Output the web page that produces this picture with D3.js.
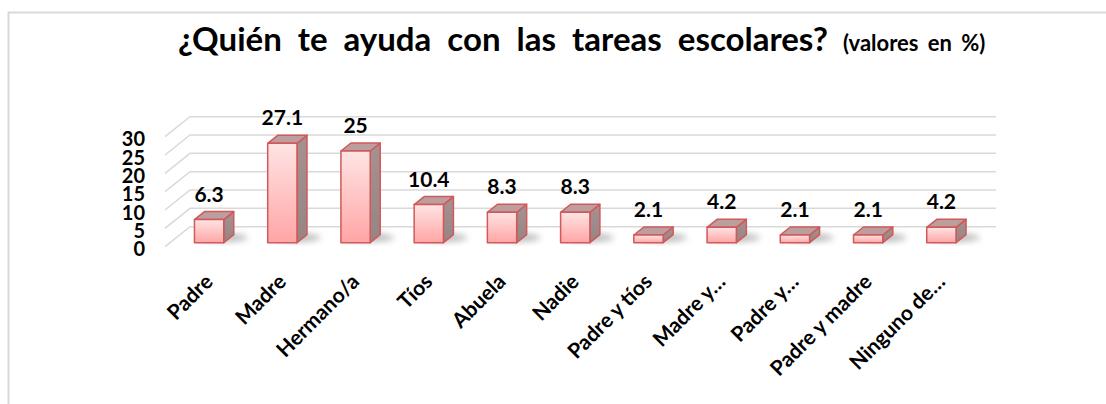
<!DOCTYPE html>
<html>
<head>
<meta charset="utf-8">
<script src="https://cdn.jsdelivr.net/npm/d3@7"></script>
<style>
  body { margin: 0; background: #fff; }
  svg text { font-family: Lato, "Open Sans", sans-serif; font-weight: 700; fill: #000; }
</style>
</head>
<body>
<div id="chart"></div>
<script>
const width = 1106,
    height = 404;

// data
const categories = ["Padre", "Madre", "Hermano/a", "Tíos", "Abuela", "Nadie",
    "Padre y tíos", "Madre y…", "Padre y…", "Padre y madre", "Ninguno de…"];
const values = [6.3, 27.1, 25, 10.4, 8.3, 8.3, 2.1, 4.2, 2.1, 2.1, 4.2];
const yTicks = [0, 5, 10, 15, 20, 25, 30];

// 3d look: full depth of the floor, bars sit between z0 and z1
const depthX = 25, depthY = -20;
const z0 = 0.2, z1 = 0.6;
const wallLeft = 165, wallRight = 971;

const svg = d3.select('#chart').append('svg')
    .attr('width', width)
    .attr('height', height);

// chart frame (only left and top edges are inside the picture)
svg.append('rect')
    .attr('x', 8.5).attr('y', 12.5)
    .attr('width', 1200).attr('height', 600)
    .attr('fill', 'none')
    .attr('stroke', '#d9d9d9')
    .attr('stroke-width', 2);

const x = d3.scaleBand()
    .domain(categories)
    .range([167.5, 973])
    .paddingInner(0.6)
    .paddingOuter(0.3);

const y = d3.scaleLinear()
    .domain([0, 30])
    .range([246.7, 136.7]);

const defs = svg.append('defs');
const frontGrad = defs.append('linearGradient')
    .attr('id', 'front').attr('x1', 0).attr('y1', 0).attr('x2', 0).attr('y2', 1);
frontGrad.append('stop').attr('offset', '0%').attr('stop-color', '#ffe4e4');
frontGrad.append('stop').attr('offset', '100%').attr('stop-color', '#ffa5a5');

const sideGrad = defs.append('linearGradient')
    .attr('id', 'side').attr('x1', 0).attr('y1', 0).attr('x2', 0).attr('y2', 1);
sideGrad.append('stop').attr('offset', '0%').attr('stop-color', '#a89090');
sideGrad.append('stop').attr('offset', '100%').attr('stop-color', '#958585');

defs.append('filter')
    .attr('id', 'blur')
    .attr('x', '-50%').attr('y', '-50%').attr('width', '200%').attr('height', '200%')
    .append('feGaussianBlur').attr('stdDeviation', 3);

// gridlines: side wall diagonals and back wall lines
const grid = svg.append('g')
    .attr('stroke', '#d9d9d9')
    .attr('stroke-width', 1.5)
    .attr('fill', 'none');

grid.selectAll('path')
    .data(yTicks)
    .enter()
    .append('path')
    .attr('d', t => `M${wallLeft},${y(t)} L${wallLeft + depthX},${y(t) + depthY} L${wallRight + depthX},${y(t) + depthY}`);

// y axis labels
svg.append('g')
    .selectAll('text')
    .data(yTicks)
    .enter()
    .append('text')
    .attr('x', 145)
    .attr('y', t => y(t) + 1.5)
    .attr('text-anchor', 'end')
    .attr('dominant-baseline', 'central')
    .style('font-size', '20px')
    .text(t => t);

const bars = categories.map((c, i) => ({ cat: c, value: values[i] }));

// shadows on the floor
svg.append('g')
    .selectAll('ellipse')
    .data(bars)
    .enter()
    .append('ellipse')
    .attr('cx', d => x(d.cat) + x.bandwidth() * 0.75 + depthX * 0.45)
    .attr('cy', d => y(0) + depthY * 0.45)
    .attr('rx', x.bandwidth() * 0.85)
    .attr('ry', 4)
    .attr('fill', '#777')
    .attr('opacity', 0.5)
    .attr('filter', 'url(#blur)');

const barG = svg.append('g')
    .selectAll('g')
    .data(bars)
    .enter()
    .append('g')
    .attr('stroke', '#d0595a')
    .attr('stroke-width', 1.5)
    .attr('stroke-linejoin', 'round');

const fx = d => x(d.cat) + z0 * depthX;
const bx = d => x(d.cat) + z1 * depthX;
const w = x.bandwidth();

// side face
barG.append('path')
    .attr('fill', 'url(#side)')
    .attr('d', d => {
        const yb0 = y(0) + z0 * depthY, yt0 = y(d.value) + z0 * depthY;
        const yb1 = y(0) + z1 * depthY, yt1 = y(d.value) + z1 * depthY;
        return `M${fx(d) + w},${yt0} L${bx(d) + w},${yt1} L${bx(d) + w},${yb1} L${fx(d) + w},${yb0}Z`;
    });

// top face
barG.append('path')
    .attr('fill', '#bd9e9e')
    .attr('d', d => {
        const yt0 = y(d.value) + z0 * depthY, yt1 = y(d.value) + z1 * depthY;
        return `M${fx(d)},${yt0} L${bx(d)},${yt1} L${bx(d) + w},${yt1} L${fx(d) + w},${yt0}Z`;
    });

// front face
barG.append('rect')
    .attr('fill', 'url(#front)')
    .attr('x', fx)
    .attr('y', d => y(d.value) + z0 * depthY)
    .attr('width', w)
    .attr('height', d => y(0) - y(d.value));

// value labels
svg.append('g')
    .selectAll('text')
    .data(bars)
    .enter()
    .append('text')
    .attr('x', d => fx(d) + w / 2)
    .attr('y', d => y(d.value) + z1 * depthY - 10)
    .attr('text-anchor', 'middle')
    .style('font-size', '21px')
    .text(d => d.value);

// category labels, rotated
svg.append('g')
    .selectAll('text')
    .data(bars)
    .enter()
    .append('text')
    .attr('transform', d => `translate(${fx(d) + w / 2 + 5},283) rotate(-45)`)
    .attr('text-anchor', 'end')
    .style('font-size', '21px')
    .text(d => d.cat);

// title
svg.append('text')
    .attr('x', 828)
    .attr('y', 51)
    .attr('text-anchor', 'end')
    .style('font-size', '33px')
    .style('word-spacing', '8px')
    .text('¿Quién te ayuda con las tareas escolares?');

svg.append('text')
    .attr('x', 843)
    .attr('y', 51)
    .style('font-size', '22px')
    .style('word-spacing', '4px')
    .text('(valores en %)');
</script>
</body>
</html>
